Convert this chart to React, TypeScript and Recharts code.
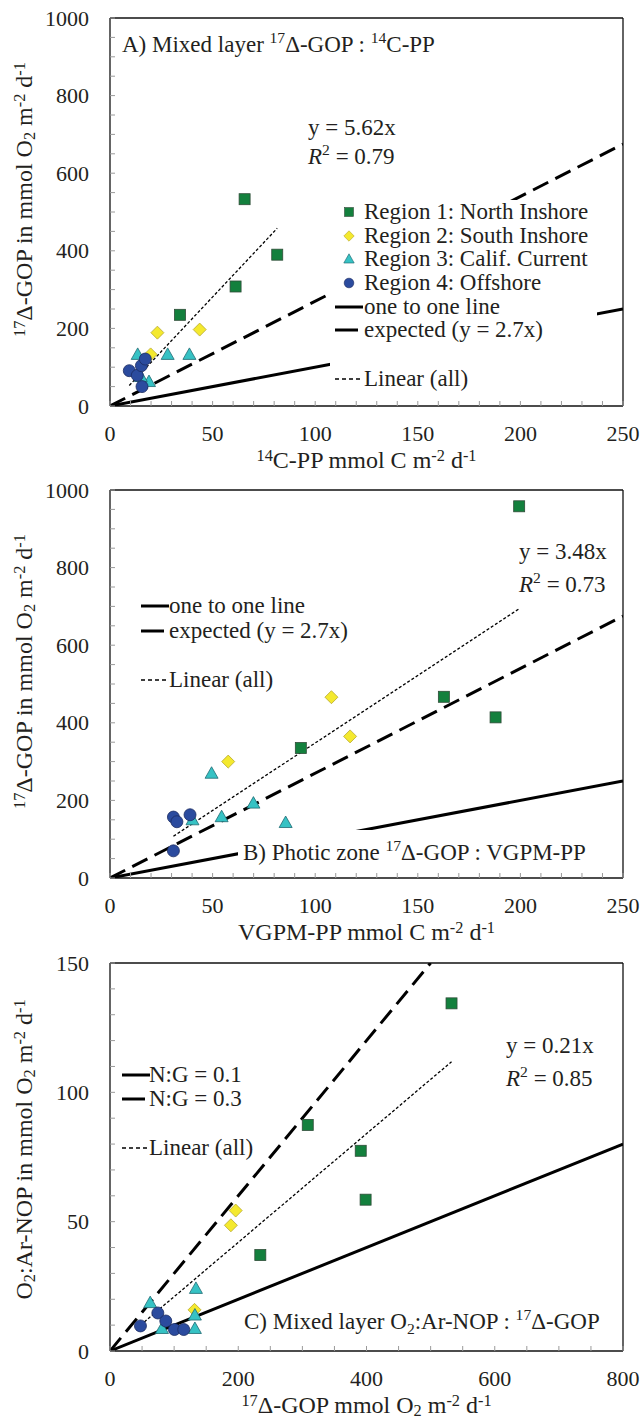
import React from "react";
import { ScatterChart, Scatter, XAxis, YAxis, ReferenceLine } from "recharts";

const FONT = '"Liberation Serif", "Times New Roman", serif';
const INK = "#231f20";

type Pt = { x: number; y: number };

// A) mixed layer 17Δ-GOP vs 14C-PP
const aNorth: Pt[] = [{ x: 65.6, y: 533 }, { x: 81.5, y: 390 }, { x: 61.2, y: 308 }, { x: 34.1, y: 235 }];
const aSouth: Pt[] = [{ x: 23.1, y: 189 }, { x: 43.7, y: 197 }, { x: 19.8, y: 133 }];
const aCalif: Pt[] = [{ x: 13.5, y: 133 }, { x: 28.1, y: 133 }, { x: 38.7, y: 133 }, { x: 19.0, y: 63 }, { x: 15.0, y: 76 }];
const aOff: Pt[] = [{ x: 9.4, y: 91 }, { x: 13.3, y: 79 }, { x: 15.3, y: 104 }, { x: 17.2, y: 121 }, { x: 15.6, y: 50 }];

// B) photic zone 17Δ-GOP vs VGPM-PP
const bNorth: Pt[] = [{ x: 199.4, y: 958 }, { x: 162.7, y: 467 }, { x: 187.9, y: 414 }, { x: 93, y: 335 }];
const bSouth: Pt[] = [{ x: 107.9, y: 466 }, { x: 117, y: 365 }, { x: 57.6, y: 300 }];
const bCalif: Pt[] = [{ x: 49.5, y: 270 }, { x: 69.9, y: 193 }, { x: 54.4, y: 158 }, { x: 85.6, y: 143 }, { x: 40.2, y: 150 }];
const bOff: Pt[] = [{ x: 30.9, y: 157 }, { x: 32.6, y: 145 }, { x: 39, y: 163 }, { x: 30.9, y: 70 }];

// C) O2:Ar-NOP vs 17Δ-GOP
const cNorth: Pt[] = [{ x: 532.6, y: 134.4 }, { x: 308.4, y: 87.4 }, { x: 391, y: 77.4 }, { x: 398.6, y: 58.5 }, { x: 234.4, y: 37.1 }];
const cSouth: Pt[] = [{ x: 196, y: 54.3 }, { x: 188.5, y: 48.6 }, { x: 131.8, y: 15.9 }];
const cCalif: Pt[] = [{ x: 134, y: 24.2 }, { x: 62.7, y: 18.7 }, { x: 132.4, y: 13.9 }, { x: 81, y: 8.7 }, { x: 132.4, y: 8.7 }];
const cOff: Pt[] = [{ x: 47.5, y: 9.7 }, { x: 74.6, y: 14.7 }, { x: 87, y: 11.6 }, { x: 100.5, y: 8.3 }, { x: 115, y: 8.3 }];

const regionNames = ["Region 1: North Inshore", "Region 2: South Inshore", "Region 3: Calif. Current", "Region 4: Offshore"];

const seq = (max: number, step: number) => Array.from({ length: Math.round(max / step) + 1 }, (_, i) => i * step);

// reference line y = slope * x, cut where it leaves the plot
const ref = (slope: number, xMax: number, yMax: number): Pt[] => {
  const xEnd = Math.min(xMax, yMax / slope);
  return [{ x: 0, y: 0 }, { x: xEnd, y: slope * xEnd }];
};

// fitted line over the x range of all points
const trend = (slope: number, sets: Pt[][]): Pt[] => {
  const xs = sets.flat().map((p) => p.x);
  const lo = Math.min(...xs);
  const hi = Math.max(...xs);
  return [{ x: lo, y: slope * lo }, { x: hi, y: slope * hi }];
};

// markers
const Square = (p: any) => (
  <rect x={p.cx - 5.5} y={p.cy - 5.5} width={11} height={11} fill="#13803d" stroke="#2f4c38" strokeWidth={0.8} />
);
const Diamond = (p: any) => (
  <path d={`M${p.cx},${p.cy - 6.5}L${p.cx + 6.5},${p.cy}L${p.cx},${p.cy + 6.5}L${p.cx - 6.5},${p.cy}Z`} fill="#f4e92e" stroke="#b8a830" strokeWidth={0.8} />
);
const Triangle = (p: any) => (
  <path d={`M${p.cx},${p.cy - 6.5}L${p.cx + 6.5},${p.cy + 5}L${p.cx - 6.5},${p.cy + 5}Z`} fill="#36c2c4" stroke="#1f6a72" strokeWidth={0.8} />
);
const Circle = (p: any) => <circle cx={p.cx} cy={p.cy} r={6} fill="#2b4b9e" stroke="#1c2c62" strokeWidth={0.8} />;
const Blank = () => <g />;
const shapes = [Square, Diamond, Triangle, Circle];

const XTick = (p: any) => {
  const v = p.payload.value;
  return (
    <g>
      <line x1={p.x} x2={p.x} y1={p.y} y2={p.y - 5} stroke="#9a9a9a" strokeWidth={1} />
      {v % p.step === 0 && (
        <text x={p.x} y={p.y + 35} textAnchor="middle" fontSize={22} fontFamily={FONT} fill={INK}>
          {v}
        </text>
      )}
    </g>
  );
};

const YTick = (p: any) => {
  const v = p.payload.value;
  return (
    <g>
      <line x1={p.x} x2={p.x + 5} y1={p.y} y2={p.y} stroke="#9a9a9a" strokeWidth={1} />
      {v % p.step === 0 && (
        <text x={p.x - 21} y={p.y + 7.5} textAnchor="end" fontSize={22} fontFamily={FONT} fill={INK}>
          {v}
        </text>
      )}
    </g>
  );
};

type Part = [string, ("sup" | "sub" | "i")?];

const Rich = ({ parts, up = 0.55, down = 0.3 }: { parts: Part[]; up?: number; down?: number }) => (
  <>
    {parts.map(([t, k], i) =>
      k === "sup" ? (
        <span key={i} style={{ fontSize: "0.68em", position: "relative", top: `-${up}em` }}>{t}</span>
      ) : k === "sub" ? (
        <span key={i} style={{ fontSize: "0.68em", position: "relative", top: `${down}em` }}>{t}</span>
      ) : k === "i" ? (
        <i key={i}>{t}</i>
      ) : (
        <span key={i}>{t}</span>
      )
    )}
  </>
);

const txt: React.CSSProperties = {
  position: "absolute",
  fontFamily: FONT,
  fontSize: 23,
  lineHeight: "24px",
  color: INK,
  whiteSpace: "nowrap",
};

const Note = ({ left, cy, parts }: { left: number; cy: number; parts: Part[] }) => (
  <div style={{ ...txt, left, top: cy - 12 }}>
    <Rich parts={parts} />
  </div>
);

const LineKey = ({ kind }: { kind: "solid" | "dash" | "dot" }) => (
  <svg width={30} height={10} style={{ position: "absolute", left: 0, top: 7 }}>
    {kind === "solid" && <line x1={0} x2={28} y1={5} y2={5} stroke="#000" strokeWidth={3} />}
    {kind === "dash" && <line x1={0} x2={23} y1={5} y2={5} stroke="#000" strokeWidth={3} />}
    {kind === "dot" && <line x1={0} x2={28} y1={5} y2={5} stroke="#000" strokeWidth={1.3} strokeDasharray="4 3" />}
  </svg>
);

const MarkKey = ({ idx }: { idx: number }) => {
  const S = shapes[idx];
  return (
    <svg width={16} height={16} style={{ position: "absolute", left: 6, top: 4 }}>
      <g transform="translate(8,8) scale(0.8) translate(-8,-8)">
        <S cx={8} cy={8} />
      </g>
    </svg>
  );
};

type Entry = { cy: number; label: string; line?: "solid" | "dash" | "dot"; mark?: number };

const KeyList = ({ left, textLeft, entries }: { left: number; textLeft: number; entries: Entry[] }) => (
  <>
    {entries.map((e, i) => (
      <div key={i} style={{ ...txt, left, top: e.cy - 12, width: textLeft - left + 10, height: 24 }}>
        {e.line && <LineKey kind={e.line} />}
        {e.mark !== undefined && <MarkKey idx={e.mark} />}
        <span style={{ position: "absolute", left: textLeft - left }}>{e.label}</span>
      </div>
    ))}
  </>
);

interface PanelProps {
  top: number;
  xMax: number;
  yMax: number;
  xStep: number;
  yStep: number;
  xLabelStep: number;
  yLabelStep: number;
  regions: Pt[][];
  solid: Pt[];
  dashed: Pt[];
  fit: Pt[];
  xTitle: Part[];
  yTitle: Part[];
  yTitleCy: number;
  children?: React.ReactNode;
}

const Panel = (p: PanelProps) => (
  <div style={{ position: "absolute", left: 0, top: p.top, width: 644, height: 470 }}>
    <ScatterChart width={644} height={470} margin={{ top: 18, right: 21, bottom: 0, left: 10 }}>
      <XAxis
        type="number"
        dataKey="x"
        domain={[0, p.xMax]}
        ticks={seq(p.xMax, p.xStep)}
        interval={0}
        tickSize={0}
        tickMargin={0}
        tickLine={false}
        height={64}
        allowDataOverflow
        axisLine={{ stroke: "#111", strokeWidth: 1.3 }}
        tick={(t: any) => <XTick {...t} step={p.xLabelStep} />}
      />
      <YAxis
        type="number"
        dataKey="y"
        domain={[0, p.yMax]}
        ticks={seq(p.yMax, p.yStep)}
        interval={0}
        tickSize={0}
        tickMargin={0}
        tickLine={false}
        width={100}
        allowDataOverflow
        axisLine={{ stroke: "#111", strokeWidth: 1.3 }}
        tick={(t: any) => <YTick {...t} step={p.yLabelStep} />}
      />
      <ReferenceLine y={p.yMax} stroke="#111" strokeWidth={1.3} />
      <ReferenceLine x={p.xMax} stroke="#111" strokeWidth={1.3} />
      <Scatter data={p.solid} line={{ stroke: "#000", strokeWidth: 3 }} shape={Blank} isAnimationActive={false} />
      <Scatter data={p.dashed} line={{ stroke: "#000", strokeWidth: 3, strokeDasharray: "17 8" }} shape={Blank} isAnimationActive={false} />
      <Scatter data={p.fit} line={{ stroke: "#000", strokeWidth: 1.3, strokeDasharray: "3 2" }} shape={Blank} isAnimationActive={false} />
      {p.regions.map((d, i) => (
        <Scatter key={i} name={regionNames[i]} data={d} shape={shapes[i]} isAnimationActive={false} />
      ))}
    </ScatterChart>
    <div style={{ ...txt, fontSize: 24, left: 110, width: 513, top: 448, textAlign: "center" }}>
      <Rich parts={p.xTitle} up={0.4} down={0.17} />
    </div>
    <div style={{ ...txt, fontSize: 24, left: 25 - 180, width: 360, top: p.yTitleCy - 12, textAlign: "center", transform: "rotate(-90deg)" }}>
      <Rich parts={p.yTitle} up={0.45} down={0.2} />
    </div>
    {p.children}
  </div>
);

const gopTitle: Part[] = [["17", "sup"], ["Δ-GOP in mmol O"], ["2", "sub"], [" m"], ["-2", "sup"], [" d"], ["-1", "sup"]];

export default function App() {
  return (
    <div style={{ position: "absolute", left: 0, top: 0, width: 644, height: 1418, background: "#fff" }}>
      <Panel
        top={0}
        xMax={250}
        yMax={1000}
        xStep={10}
        yStep={50}
        xLabelStep={50}
        yLabelStep={200}
        regions={[aNorth, aSouth, aCalif, aOff]}
        solid={ref(1, 250, 1000)}
        dashed={ref(2.7, 250, 1000)}
        fit={trend(5.62, [aNorth, aSouth, aCalif, aOff])}
        xTitle={[["14", "sup"], ["C-PP mmol C m"], ["-2", "sup"], [" d"], ["-1", "sup"]]}
        yTitle={gopTitle}
        yTitleCy={198}
      >
        <Note left={122} cy={45} parts={[["A) Mixed layer "], ["17", "sup"], ["Δ-GOP : "], ["14", "sup"], ["C-PP"]]} />
        <Note left={308} cy={128} parts={[["y = 5.62x"]]} />
        <Note left={308} cy={157} parts={[["R", "i"], ["2", "sup"], [" = 0.79"]]} />
        <div style={{ position: "absolute", left: 330, top: 200, width: 267, height: 198, background: "#fff" }} />
        <KeyList
          left={335}
          textLeft={364}
          entries={[
            { cy: 212, label: regionNames[0], mark: 0 },
            { cy: 236, label: regionNames[1], mark: 1 },
            { cy: 259, label: regionNames[2], mark: 2 },
            { cy: 283, label: regionNames[3], mark: 3 },
            { cy: 307, label: "one to one line", line: "solid" },
            { cy: 330, label: "expected (y = 2.7x)", line: "dash" },
            { cy: 379, label: "Linear (all)", line: "dot" },
          ]}
        />
      </Panel>

      <Panel
        top={472}
        xMax={250}
        yMax={1000}
        xStep={10}
        yStep={50}
        xLabelStep={50}
        yLabelStep={200}
        regions={[bNorth, bSouth, bCalif, bOff]}
        solid={ref(1, 250, 1000)}
        dashed={ref(2.7, 250, 1000)}
        fit={trend(3.48, [bNorth, bSouth, bCalif, bOff])}
        xTitle={[["VGPM-PP mmol C m"], ["-2", "sup"], [" d"], ["-1", "sup"]]}
        yTitle={gopTitle}
        yTitleCy={198}
      >
        <KeyList
          left={141}
          textLeft={169}
          entries={[
            { cy: 134, label: "one to one line", line: "solid" },
            { cy: 159, label: "expected (y = 2.7x)", line: "dash" },
            { cy: 208, label: "Linear (all)", line: "dot" },
          ]}
        />
        <Note left={519} cy={80} parts={[["y = 3.48x"]]} />
        <Note left={519} cy={113} parts={[["R", "i"], ["2", "sup"], [" = 0.73"]]} />
        <div style={{ position: "absolute", left: 238, top: 358, width: 285, height: 42, background: "#fff" }} />
        <Note left={243} cy={381} parts={[["B) Photic zone "], ["17", "sup"], ["Δ-GOP : VGPM-PP"]]} />
      </Panel>

      <Panel
        top={945}
        xMax={800}
        yMax={150}
        xStep={50}
        yStep={10}
        xLabelStep={200}
        yLabelStep={50}
        regions={[cNorth, cSouth, cCalif, cOff]}
        solid={ref(0.1, 800, 150)}
        dashed={ref(0.3, 800, 150)}
        fit={trend(0.21, [cNorth, cSouth, cCalif, cOff])}
        xTitle={[["17", "sup"], ["Δ-GOP mmol O"], ["2", "sub"], [" m"], ["-2", "sup"], [" d"], ["-1", "sup"]]}
        yTitle={[["O"], ["2", "sub"], [":Ar-NOP in mmol O"], ["2", "sub"], [" m"], ["-2", "sup"], [" d"], ["-1", "sup"]]}
        yTitleCy={203}
      >
        <KeyList
          left={122}
          textLeft={149}
          entries={[
            { cy: 130, label: "N:G = 0.1", line: "solid" },
            { cy: 154, label: "N:G = 0.3", line: "dash" },
            { cy: 203, label: "Linear (all)", line: "dot" },
          ]}
        />
        <Note left={506} cy={101} parts={[["y = 0.21x"]]} />
        <Note left={506} cy={134} parts={[["R", "i"], ["2", "sup"], [" = 0.85"]]} />
        <Note left={244} cy={377} parts={[["C) Mixed layer O"], ["2", "sub"], [":Ar-NOP : "], ["17", "sup"], ["Δ-GOP"]]} />
      </Panel>
    </div>
  );
}
